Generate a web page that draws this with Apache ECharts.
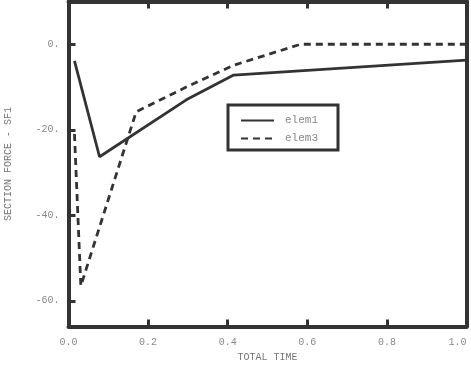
<!DOCTYPE html>
<html><head><meta charset="utf-8">
<script src="https://cdn.jsdelivr.net/npm/echarts@6/dist/echarts.min.js"></script>
<style>html,body{margin:0;padding:0;background:#fff}#c{width:471px;height:365px}</style>
</head><body><div id="c"></div>
<script>
var elem1Time = [0.015, 0.078, 0.296, 0.415, 1.0];
var elem1Force = [-3.9, -26.3, -13.0, -7.2, -3.7];
var elem3Time = [0.015, 0.031, 0.17, 0.296, 0.415, 0.583, 1.0];
var elem3Force = [-21.0, -56.5, -15.8, -10.0, -4.9, 0.0, 0.0];
var yTicks = [0, -20, -40, -60];
var seriesNames = ['elem1', 'elem3'];

function pairs(t, v) { return t.map(function (x, i) { return [x, v[i]]; }); }

var font = 'Liberation Mono';
var ink = '#333';
var frameLine = { show: true, onZero: false, lineStyle: { color: ink, width: 4 } };
var chart = echarts.init(document.getElementById('c'));
chart.setOption({
  animation: false,
  grid: { left: 68.5, right: 4.5, top: 1.5, bottom: 38.5, containLabel: false, outerBoundsMode: 'none' },
  legend: {
    left: 228, top: 105, orient: 'vertical',
    borderColor: ink, borderWidth: 3, borderRadius: 0,
    padding: [10, 20, 6, 12], itemWidth: 33, itemHeight: 10, itemGap: 7,
    textStyle: { fontFamily: font, fontSize: 11, color: '#888', padding: [0, 0, 0, 6] },
    data: seriesNames
  },
  xAxis: [{
    type: 'value', min: 0, max: 1, interval: 0.2,
    name: 'TOTAL TIME', nameLocation: 'middle', nameGap: 24,
    nameTextStyle: { fontFamily: font, fontSize: 10, color: '#777' },
    axisLine: frameLine,
    axisTick: { show: true, inside: true, length: 7, lineStyle: { color: ink, width: 3 } },
    axisLabel: { fontFamily: font, fontSize: 10, color: '#888', margin: 11, alignMaxLabel: 'right', formatter: function (v) { return v.toFixed(1); } },
    splitLine: { show: false }
  }, {
    type: 'value', min: 0, max: 1, interval: 0.2, position: 'top',
    axisLine: frameLine,
    axisTick: { show: true, inside: true, length: 7, lineStyle: { color: ink, width: 3 } },
    axisLabel: { show: false }, splitLine: { show: false }
  }],
  yAxis: [{
    type: 'value', min: -66, max: 10, position: 'left',
    name: 'SECTION FORCE - SF1', nameLocation: 'middle', nameGap: 55, nameRotate: 90,
    nameTextStyle: { fontFamily: font, fontSize: 10, color: '#777' },
    axisLine: frameLine,
    axisTick: { show: true, inside: true, length: 7, lineStyle: { color: ink, width: 3 }, customValues: yTicks },
    axisLabel: { fontFamily: font, fontSize: 10, color: '#888', margin: 9, customValues: yTicks, formatter: function (v) { return v + '.'; } },
    splitLine: { show: false }
  }, {
    type: 'value', min: -66, max: 10, position: 'right',
    axisLine: frameLine,
    axisTick: { show: false }, axisLabel: { show: false }, splitLine: { show: false }
  }],
  series: [{
    name: seriesNames[0], type: 'line', symbol: 'none',
    data: pairs(elem1Time, elem1Force),
    lineStyle: { color: ink, width: 2.8, type: 'solid' }, itemStyle: { color: 'rgba(0,0,0,0)' }
  }, {
    name: seriesNames[1], type: 'line', symbol: 'none',
    data: pairs(elem3Time, elem3Force),
    lineStyle: { color: ink, width: 2.8, type: [7, 5] }, itemStyle: { color: 'rgba(0,0,0,0)' }
  }]
});
</script></body></html>
